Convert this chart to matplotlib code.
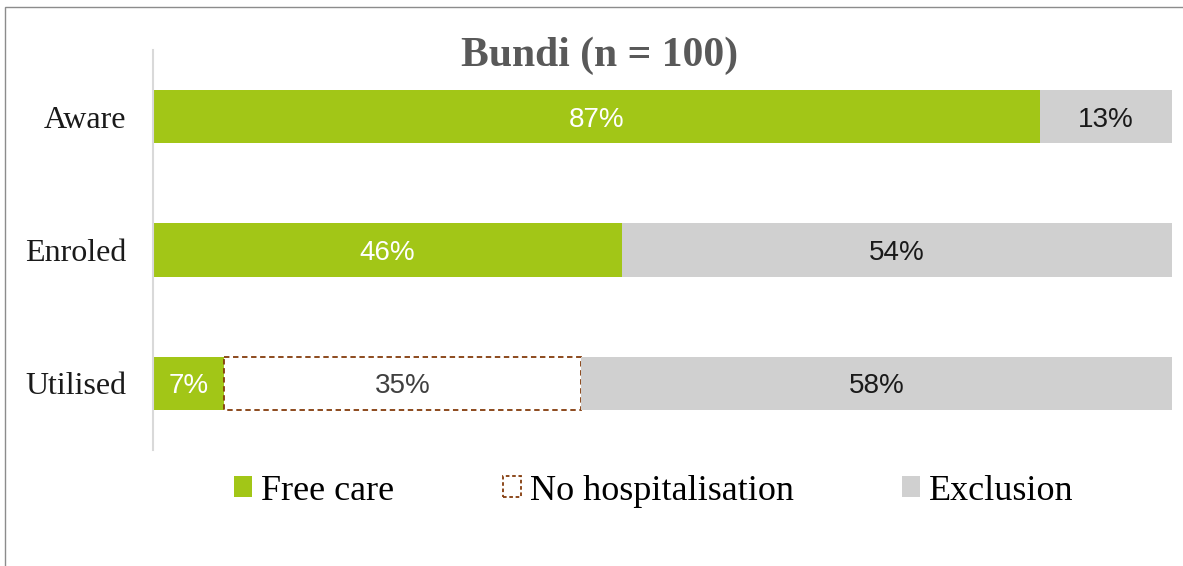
import matplotlib.pyplot as plt
from matplotlib.patches import Patch, Rectangle

categories = ["Aware", "Enroled", "Utilised"]
free_care = [87, 46, 7]
no_hosp = [0, 0, 35]
exclusion = [13, 54, 58]

GREEN = "#a2c617"
GREY = "#d0d0d0"
BROWN = "#843c0c"

fig = plt.figure(figsize=(11.83, 5.66), dpi=100)
ax = fig.add_axes([153 / 1183, 1 - 450 / 566, 1019 / 1183, 400 / 566])

y = list(range(len(categories)))
ax.barh(y, free_care, height=0.4, color=GREEN)
ax.barh(y, no_hosp, left=free_care, height=0.4, color="white",
        edgecolor=[BROWN if v > 0 else "none" for v in no_hosp],
        linestyle=(0, (3, 2)), linewidth=1.3)
excl_left = [a + b for a, b in zip(free_care, no_hosp)]
ax.barh(y, exclusion, left=excl_left, height=0.4, color=GREY)

label_font = dict(family="Liberation Sans", fontsize=20, ha="center",
                  va="center_baseline")
for i in y:
    ax.text(free_care[i] / 2, i, f"{free_care[i]}%", color="white", **label_font)
    if no_hosp[i] > 0:
        ax.text(free_care[i] + no_hosp[i] / 2, i, f"{no_hosp[i]}%",
                color="#404040", **label_font)
    ax.text(excl_left[i] + exclusion[i] / 2, i, f"{exclusion[i]}%",
            color="#1a1a1a", **label_font)

ax.set_xlim(0, 100)
ax.set_ylim(2.5, -0.5)
ax.set_yticks(y)
ax.set_yticklabels(categories, family="Liberation Serif", fontsize=23, color="#1a1a1a")
ax.tick_params(axis="y", length=0, pad=19)
ax.set_xticks([])
for side in ["top", "right", "bottom"]:
    ax.spines[side].set_visible(False)
ax.spines["left"].set_color("#d9d9d9")
ax.spines["left"].set_linewidth(1.5)

fig.text(0.507, 1 - 56 / 566, "Bundi (n = 100)", family="Liberation Serif",
         fontsize=30, fontweight="bold", color="#595959", ha="center", va="center")

handles = [
    Patch(facecolor=GREEN, edgecolor="none", label="Free care"),
    Patch(facecolor="white", edgecolor=BROWN, linestyle=(0, (2, 1.5)),
          linewidth=1.3, label="No hospitalisation"),
    Patch(facecolor=GREY, edgecolor="none", label="Exclusion"),
]
fig.legend(handles=handles, loc="center", bbox_to_anchor=(654 / 1183, 1 - 491 / 566),
           ncol=3, frameon=False, prop={"family": "Liberation Serif", "size": 26},
           handlelength=0.5, handleheight=0.5, handletextpad=0.25, columnspacing=3.0)

# light frame around the chart area
fig.patches.append(Rectangle((5 / 1183, -0.1), 1.2, 1.1 - 7 / 566,
                             transform=fig.transFigure, fill=False,
                             edgecolor="#8c8c8c", linewidth=1.0))

fig.savefig("out.png", dpi=100)
